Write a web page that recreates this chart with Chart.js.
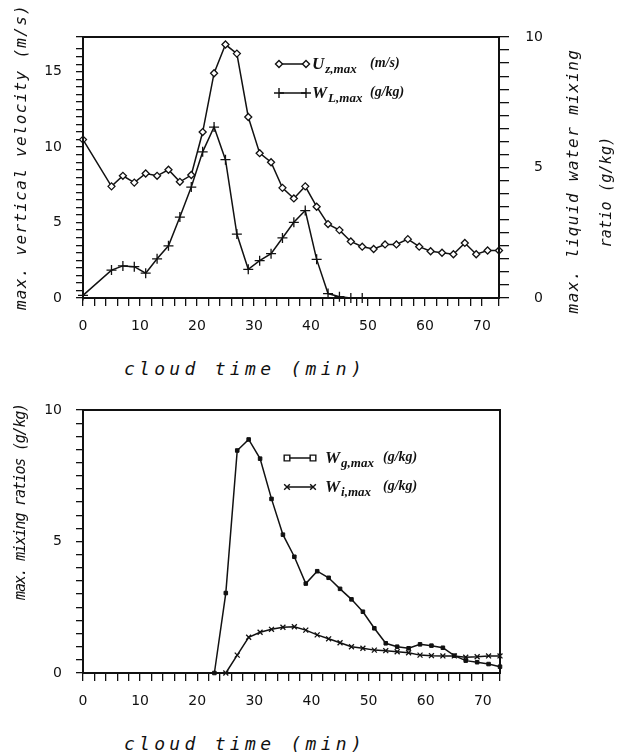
<!DOCTYPE html>
<html>
<head>
<meta charset="utf-8">
<script src="https://cdn.jsdelivr.net/npm/chart.js@4/dist/chart.umd.min.js"></script>
<style>
body{margin:0;background:#fff;width:617px;height:755px;position:relative;overflow:hidden}
.box{position:absolute;left:0;width:617px;height:345px}
.t{position:absolute;white-space:nowrap;font-family:"DejaVu Sans Mono",monospace;font-style:italic;color:#111;transform:translate(-50%,-50%)}
.r{transform:translate(-50%,-50%) rotate(-90deg)}
</style>
</head>
<body>
<div class="box" style="top:0"><canvas id="topChart"></canvas></div>
<div class="box" style="top:380px"><canvas id="botChart"></canvas></div>

<div class="t r" style="left:20px;top:157px;font-size:16px;letter-spacing:1.3px">max. vertical velocity (m/s)</div>
<div class="t r" style="left:572px;top:181px;font-size:16px;letter-spacing:1.4px">max. liquid water mixing</div>
<div class="t r" style="left:606px;top:192px;font-size:15px;letter-spacing:0.2px">ratio (g/kg)</div>
<div class="t" style="left:245px;top:368px;font-size:18px;letter-spacing:4.3px">cloud time (min)</div>
<div class="t r" style="left:20px;top:502px;font-size:15px;letter-spacing:-1.2px">max. mixing ratios (g/kg)</div>
<div class="t" style="left:245px;top:743px;font-size:18px;letter-spacing:4.3px">cloud time (min)</div>

<script>
// cloud time (min), top panel
const timeTop = [0,5,7,9,11,13,15,17,19,21,23,25,27,29,31,33,35,37,39,41,43,45,47,49,51,53,55,57,59,61,63,65,67,69,71,73];
// U_z,max (m/s), left axis
const uzMax = [10.5,7.4,8.1,7.65,8.25,8.1,8.5,7.7,8.15,11.0,14.9,16.8,16.2,12.0,9.6,9.0,7.3,6.6,7.4,6.05,4.9,4.5,3.75,3.4,3.25,3.55,3.55,3.9,3.4,3.1,3.0,2.9,3.65,2.9,3.15,3.15];
// W_L,max (g/kg), right axis
const wlMax = [0.1,1.07,1.23,1.2,0.95,1.5,2.0,3.1,4.25,5.6,6.55,5.3,2.45,1.1,1.43,1.7,2.3,2.9,3.35,1.48,0.17,0.05,0,0,null,null,null,null,null,null,null,null,null,null,null,null];

// cloud time (min), bottom panel
const timeBot = [23,25,27,29,31,33,35,37,39,41,43,45,47,49,51,53,55,57,59,61,63,65,67,69,71,73];
const wgMax = [0,3.04,8.46,8.88,8.15,6.62,5.26,4.42,3.4,3.87,3.62,3.2,2.8,2.33,1.7,1.13,1.0,0.94,1.09,1.04,0.96,0.66,0.47,0.41,0.34,0.24];
const wiMax = [null,0,0.68,1.36,1.55,1.66,1.74,1.76,1.63,1.45,1.3,1.15,1.0,0.94,0.87,0.85,0.81,0.77,0.68,0.66,0.65,0.65,0.6,0.62,0.65,0.65];

const xTickLabels = [0,10,20,30,40,50,60,70];
const yTickLabels = [0,5,10,15];

function pts(xs, ys){
  return xs.map((x,i)=>({x:x, y:ys[i]}));
}

const tickFont = {family:'"DejaVu Sans", sans-serif', size:14};
const ink = '#111';

const framePlugin = {
  id:'frame',
  afterDraw(chart){
    const a = chart.chartArea, ctx = chart.ctx;
    ctx.save();
    ctx.strokeStyle = ink;
    ctx.lineWidth = 2;
    ctx.strokeRect(a.left, a.top, a.right-a.left, a.bottom-a.top);
    ctx.restore();
  }
};

const legendPlugin = {
  id:'sketchLegend',
  afterDraw(chart, args, opts){
    const ctx = chart.ctx;
    ctx.save();
    opts.items.forEach(it=>{
      ctx.strokeStyle = ink;
      ctx.lineWidth = 1.5;
      ctx.beginPath();
      ctx.moveTo(it.x0, it.y);
      ctx.lineTo(it.x1, it.y);
      ctx.stroke();
      [it.x0, it.x1].forEach(x=>{
        ctx.fillStyle = it.fill;
        ctx.lineWidth = 1.4;
        Chart.helpers.drawPoint(ctx, {pointStyle:it.style, radius:it.radius, borderWidth:1.4, rotation:0}, x, it.y);
      });
      ctx.fillStyle = ink;
      ctx.textBaseline = 'alphabetic';
      ctx.textAlign = 'left';
      ctx.font = 'italic bold 17px "Liberation Serif"';
      ctx.fillText(it.main, it.tx, it.y + 5);
      const w = ctx.measureText(it.main).width;
      ctx.font = 'italic bold 13px "Liberation Serif"';
      ctx.fillText(it.sub, it.tx + w + 1, it.y + 9);
      ctx.font = 'italic bold 14px "Liberation Serif"';
      ctx.fillText(it.unit, it.ux, it.y + 3);
    });
    ctx.restore();
  }
};

function labelEvery(list){
  return function(v){
    return list.some(l=>Math.abs(l-v)<1e-6) ? String(v) : '';
  };
}

function xScale(h){
  return {
    type:'linear', min:0, max:73,
    border:{display:false},
    grid:{drawOnChartArea:false, drawTicks:true, tickLength:8, tickColor:ink, lineWidth:1.3},
    ticks:{stepSize:2, autoSkip:false, maxRotation:0, maxTicksLimit:1000, padding:12, color:ink, font:tickFont, callback:labelEvery(xTickLabels)},
    afterFit(s){ s.height = h; }
  };
}

function yScale(max, pos, w, tl, pad, align){
  return {
    type:'linear', position:pos, min:0, max:max,
    border:{display:false},
    grid:{drawOnChartArea:false, drawTicks:true, tickLength:tl, tickColor:ink, lineWidth:1.3},
    ticks:{stepSize:0.5, autoSkip:false, maxTicksLimit:1000, padding:pad, color:ink, font:tickFont, crossAlign:align, callback:labelEvery(yTickLabels)},
    afterFit(s){ s.width = w; }
  };
}

new Chart(document.getElementById('topChart'), {
  type:'line',
  data:{
    datasets:[
      {label:'Uz,max (m/s)', data:pts(timeTop, uzMax), yAxisID:'y', borderColor:ink, borderWidth:1.5,
       pointStyle:'rectRot', pointRadius:3.5, pointBackgroundColor:'#fff', pointBorderColor:ink, pointBorderWidth:1.3, clip:8},
      {label:'WL,max (g/kg)', data:pts(timeTop, wlMax), yAxisID:'y2', borderColor:ink, borderWidth:1.5,
       pointStyle:'cross', pointRadius:5, pointBorderColor:ink, pointBorderWidth:1.3, clip:8}
    ]
  },
  options:{
    responsive:true, maintainAspectRatio:false, animation:false,
    layout:{padding:{top:37, left:0, right:74, bottom:0}},
    plugins:{
      legend:{display:false}, tooltip:{enabled:false},
      sketchLegend:{items:[
        {y:64, x0:279, x1:306, style:'rectRot', radius:3.5, fill:'#fff', tx:312, main:'U', sub:'z,max', ux:370, unit:'(m/s)'},
        {y:93, x0:279, x1:306, style:'cross', radius:5, fill:'#fff', tx:312, main:'W', sub:'L,max', ux:370, unit:'(g/kg)'}
      ]}
    },
    scales:{
      x:xScale(47),
      y:yScale(17.3, 'left', 83, 7, 14, 'near'),
      y2:yScale(10, 'right', 44, 10, 16, 'far')
    }
  },
  plugins:[framePlugin, legendPlugin]
});

new Chart(document.getElementById('botChart'), {
  type:'line',
  data:{
    datasets:[
      {label:'Wg,max (g/kg)', data:pts(timeBot, wgMax), borderColor:ink, borderWidth:1.5,
       pointStyle:'rect', pointRadius:2.5, pointBackgroundColor:ink, pointBorderColor:ink, pointBorderWidth:1, clip:8},
      {label:'Wi,max (g/kg)', data:pts(timeBot, wiMax), borderColor:ink, borderWidth:1.5,
       pointStyle:'crossRot', pointRadius:3.5, pointBorderColor:ink, pointBorderWidth:1.3, clip:8}
    ]
  },
  options:{
    responsive:true, maintainAspectRatio:false, animation:false,
    layout:{padding:{top:30, left:0, right:117, bottom:0}},
    plugins:{
      legend:{display:false}, tooltip:{enabled:false},
      sketchLegend:{items:[
        {y:78, x0:287, x1:313, style:'rect', radius:4, fill:'#fff', tx:325, main:'W', sub:'g,max', ux:383, unit:'(g/kg)'},
        {y:107, x0:287, x1:313, style:'crossRot', radius:4, fill:'#fff', tx:325, main:'W', sub:'i,max', ux:383, unit:'(g/kg)'}
      ]}
    },
    scales:{
      x:xScale(52),
      y:yScale(10, 'left', 83, 7, 14, 'near')
    }
  },
  plugins:[framePlugin, legendPlugin]
});
</script>
</body>
</html>
